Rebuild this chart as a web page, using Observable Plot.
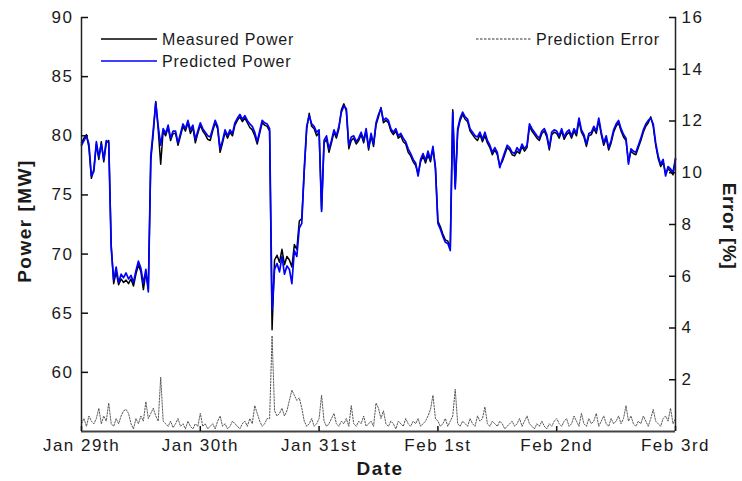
<!DOCTYPE html>
<html><head><meta charset="utf-8">
<script src="https://cdn.jsdelivr.net/npm/d3@7"></script>
<script src="https://cdn.jsdelivr.net/npm/@observablehq/plot@0.6"></script>
<style>body{margin:0;background:#fff;}</style>
</head><body><div id="chart"></div>
<script>
// ---- data (30-minute steps from Jan 29th 00:00) ----
const startUTC = Date.UTC(2014, 0, 29);
const stepHours = 0.5;
const dayLabels = ["Jan 29th", "Jan 30th", "Jan 31st", "Feb 1st", "Feb 2nd", "Feb 3rd"];
const powerTicks = [60, 65, 70, 75, 80, 85, 90];
const errorTicks = [2, 4, 6, 8, 10, 12, 14, 16];
const powerDomain = [55, 90];
const errorDomain = [0, 16];

const predicted = [
79.2,79.6,80.0,79.3,76.6,77.0,79.5,78.2,79.3,78.0,79.6,79.4,
70.5,67.8,68.9,67.6,68.3,68.0,68.4,67.9,68.2,67.6,68.6,69.4,
68.8,67.5,68.7,66.8,78.3,80.5,82.8,80.8,79.2,80.6,80.2,80.9,
79.8,80.4,80.4,79.4,80.2,81.0,80.6,81.3,80.5,80.9,79.7,80.4,
81.1,80.6,80.3,80.0,79.9,80.6,81.3,80.8,78.9,79.6,80.5,80.0,
80.5,80.2,81.1,81.5,81.8,81.4,81.7,81.3,81.0,80.8,80.3,79.5,
80.4,81.3,81.1,81.0,80.6,65.3,68.7,69.2,68.5,69.8,68.3,69.0,
68.7,67.5,70.3,69.8,72.2,72.6,77.2,80.8,81.7,81.0,80.8,80.3,
80.5,73.6,79.6,80.0,78.9,79.6,80.5,80.0,80.8,82.0,82.5,82.3,
79.2,79.9,80.0,79.5,79.8,80.3,79.6,80.6,79.0,80.2,79.3,81.1,
81.8,82.3,81.3,81.5,81.3,80.6,80.3,80.6,80.0,80.2,79.8,79.5,
78.9,78.5,78.0,77.7,76.6,78.0,78.5,77.9,78.7,78.0,79.1,77.2,
72.6,72.1,71.5,71.0,70.9,70.3,82.0,75.5,80.6,81.5,82.0,81.6,
81.4,80.6,80.3,80.0,79.9,80.3,79.7,80.3,79.6,79.2,78.6,79.0,
78.6,77.3,78.0,78.6,79.2,79.0,78.6,78.5,79.0,78.7,79.3,78.9,
79.2,81.0,80.6,80.3,80.0,79.8,80.4,80.6,80.1,79.0,80.3,80.5,
80.4,80.0,80.6,79.9,80.3,80.5,80.0,80.6,80.2,81.5,80.5,80.1,
79.3,80.2,80.3,80.8,80.4,81.5,80.3,79.4,80.0,79.0,79.6,80.5,
81.0,81.3,80.6,80.1,79.8,77.6,78.9,78.7,78.6,79.2,79.8,80.5,
81.0,81.3,81.5,81.0,79.4,78.3,77.6,78.0,76.6,77.4,77.2,76.9,
78.1];

const measured = [
79.4,79.8,80.1,79.0,76.4,77.2,79.3,78.0,79.5,77.8,79.4,79.6,
70.8,67.5,68.5,67.4,67.9,67.6,67.8,67.5,67.9,67.3,68.3,69.1,
68.5,67.0,68.4,67.1,77.9,80.2,82.9,80.5,77.6,80.4,80.0,80.7,
79.6,80.2,80.2,79.2,80.0,80.8,80.4,81.1,80.2,80.7,79.4,80.2,
80.9,80.4,80.1,79.7,79.6,80.4,81.1,80.6,78.6,79.4,80.3,79.8,
80.3,80.0,80.9,81.3,81.6,81.2,81.5,81.1,80.7,80.5,80.0,79.3,
80.2,81.1,80.9,80.8,80.4,63.6,69.5,69.9,69.3,70.4,69.1,69.8,
69.5,68.9,70.8,70.4,72.8,73.0,77.0,80.6,81.9,80.8,80.6,80.0,
80.3,73.8,79.4,79.7,78.6,79.4,80.3,79.8,80.6,82.2,82.7,82.1,
78.9,79.6,79.8,79.3,79.6,80.1,79.4,80.4,78.8,80.0,79.1,80.9,
81.6,82.4,81.1,81.3,81.1,80.4,80.1,80.4,79.8,80.0,79.5,79.3,
78.6,78.3,77.8,77.5,76.8,77.8,78.3,77.7,78.4,77.8,78.9,77.4,
72.8,72.3,71.7,71.2,71.1,70.5,82.2,75.7,80.4,81.3,81.8,81.4,
81.2,80.4,80.1,79.8,79.6,80.1,79.5,80.0,79.4,79.0,78.4,78.8,
78.4,77.5,77.8,78.4,79.0,78.8,78.4,78.3,78.7,78.5,79.1,78.7,
79.0,80.8,80.4,80.1,79.8,79.6,80.2,80.4,79.9,78.8,80.1,80.3,
80.2,79.8,80.4,79.7,80.1,80.3,79.8,80.4,80.0,81.3,80.3,79.9,
79.1,80.0,80.1,80.6,80.2,81.3,80.1,79.2,79.8,78.8,79.4,80.3,
80.8,81.1,80.4,79.9,79.6,77.8,78.7,78.5,78.4,79.0,79.6,80.3,
80.8,81.1,81.6,80.8,79.2,78.1,77.4,77.8,76.8,77.2,77.0,76.7,
78.0];

const predictionError = [
0.3,0.5,0.2,0.6,0.4,0.3,0.5,0.9,0.3,0.6,0.4,1.1,
0.3,0.2,0.5,0.3,0.6,0.8,0.85,0.7,0.3,0.1,0.5,0.3,
0.6,0.4,1.15,0.5,0.7,0.9,0.6,0.4,2.1,0.4,0.3,0.2,
0.4,0.15,0.3,0.5,0.2,0.3,0.1,0.4,0.2,0.1,0.3,0.2,
0.7,0.2,0.3,0.1,0.2,0.3,0.1,0.4,0.6,0.2,0.3,0.1,
0.2,0.4,0.3,0.2,0.1,0.3,0.4,0.2,0.5,0.3,1.0,0.7,
0.4,0.2,0.3,0.5,0.5,3.7,0.8,0.6,0.7,0.9,0.6,0.8,
1.2,1.6,1.4,1.2,1.3,0.9,0.4,0.2,0.3,0.5,0.2,0.3,
0.5,1.4,0.4,0.2,0.3,0.5,0.7,0.3,0.2,0.4,0.3,0.5,
0.2,1.0,0.3,0.2,0.4,0.3,0.6,0.2,0.3,0.4,0.2,1.1,
0.9,0.5,0.8,0.3,0.2,0.4,0.3,0.1,0.4,0.3,0.2,0.5,
0.3,0.2,0.4,0.3,0.5,0.2,0.3,0.4,0.6,0.85,1.4,0.5,
0.4,0.2,0.3,0.5,0.2,0.4,0.6,1.63,0.3,0.2,0.4,0.3,
0.2,0.5,0.3,0.2,0.6,0.4,0.5,0.95,0.3,0.2,0.4,0.3,
0.2,0.4,0.3,0.1,0.2,0.3,0.4,0.2,0.3,0.5,0.2,0.4,
0.6,0.3,0.2,0.1,0.3,0.2,0.4,0.2,0.1,0.3,0.2,0.4,
0.5,0.3,0.2,0.4,0.5,0.2,0.3,0.6,0.4,0.2,0.7,0.3,
0.2,0.5,0.3,0.4,0.7,0.2,0.4,0.6,0.3,0.2,0.5,0.3,
0.4,0.6,0.3,0.5,1.0,0.4,0.6,0.3,0.2,0.4,0.3,0.6,
0.4,0.2,0.5,0.85,0.4,0.3,0.2,0.5,0.6,0.4,0.9,0.3,
0.5];

// ---- helpers ----
const DAY = 86400e3;
const timeAt = i => new Date(startUTC + i * stepHours * 3600e3);
const dayTicks = dayLabels.map((_, i) => new Date(startUTC + i * DAY));
// error axis (right) shares the plot's y scale: linear map of [0,16] % onto [55,90] MW
const errToY = e => powerDomain[0] + (e - errorDomain[0]) * (powerDomain[1] - powerDomain[0]) / (errorDomain[1] - errorDomain[0]);
const yToErr = v => errorDomain[0] + (v - powerDomain[0]) * (errorDomain[1] - errorDomain[0]) / (powerDomain[1] - powerDomain[0]);

const predRows = predicted.map((v, i) => ({t: timeAt(i), v}));
const measRows = measured.map((v, i) => ({t: timeAt(i), v}));
const errRows = predictionError.map((e, i) => ({t: timeAt(i), v: errToY(e)}));

const FONT = "'Liberation Sans', Arial, Helvetica, sans-serif";
const xDomain = [dayTicks[0], dayTicks[dayTicks.length - 1]];

const chart = Plot.plot({
  width: 742, height: 481,
  marginLeft: 81, marginRight: 67, marginTop: 17, marginBottom: 50,
  style: {fontFamily: FONT, fontSize: "17px", color: "#1a1a1a", background: "#fff", letterSpacing: "1.5px"},
  x: {type: "utc", domain: xDomain},
  y: {domain: powerDomain},
  marks: [
    Plot.line(errRows, {x: "t", y: "v", stroke: "#444", strokeWidth: 0.9, strokeDasharray: "1.5,1.5"}),
    Plot.line(measRows, {x: "t", y: "v", stroke: "#000", strokeWidth: 1.5}),
    Plot.line(predRows, {x: "t", y: "v", stroke: "#0000ff", strokeWidth: 1.7}),
    Plot.ruleX(xDomain, {stroke: "#222", strokeWidth: 1.5}),
    Plot.ruleY([powerDomain[0]], {stroke: "#444", strokeWidth: 2}),
    Plot.axisX(dayTicks, {tickSize: -5, tickPadding: 12, label: null, stroke: "#111", strokeWidth: 1.5,
      tickFormat: d => dayLabels[Math.round((d - startUTC) / DAY)]}),
    Plot.axisY(powerTicks, {anchor: "left", tickSize: -7, tickPadding: 15, label: null, stroke: "#111", strokeWidth: 1.5}),
    Plot.axisY(errorTicks.map(errToY), {anchor: "right", tickSize: -7, tickPadding: 13, label: null, stroke: "#111", strokeWidth: 1.5,
      tickFormat: v => String(Math.round(yToErr(v)))})
  ]
});

document.getElementById("chart").appendChild(chart);

// ---- titles and legends ----
const svg = d3.select(chart);
const g = svg.append("g").attr("font-family", FONT).attr("fill", "#1a1a1a");
g.append("text").attr("transform", "translate(24,221) rotate(-90)")
  .attr("text-anchor", "middle").attr("dominant-baseline", "central")
  .attr("font-weight", "bold").attr("font-size", 19).attr("letter-spacing", "1.5px").text("Power [MW]");
g.append("text").attr("transform", "translate(729,226) rotate(90)")
  .attr("text-anchor", "middle").attr("dominant-baseline", "central")
  .attr("font-weight", "bold").attr("font-size", 19).attr("letter-spacing", "0.6px").text("Error [%]");
g.append("text").attr("x", 380).attr("y", 475).attr("text-anchor", "middle")
  .attr("font-weight", "bold").attr("font-size", 19).attr("letter-spacing", "1.5px").text("Date");

const legend = [
  {x1: 101, x2: 157, y: 39, tx: 162, ty: 45, color: "#000", dash: null, w: 1.3, label: "Measured Power"},
  {x1: 101, x2: 157, y: 61, tx: 162, ty: 67, color: "#0000ff", dash: null, w: 1.5, label: "Predicted Power"},
  {x1: 476, x2: 531, y: 39, tx: 536, ty: 45, color: "#333", dash: "2.5,1.5", w: 1, label: "Prediction Error"}
];
for (const L of legend) {
  g.append("line").attr("x1", L.x1).attr("x2", L.x2).attr("y1", L.y).attr("y2", L.y)
    .attr("stroke", L.color).attr("stroke-width", L.w).attr("stroke-dasharray", L.dash);
  g.append("text").attr("x", L.tx).attr("y", L.ty).attr("font-size", 16).attr("text-anchor", "start")
    .attr("letter-spacing", "0.8px").text(L.label);
}
</script>
</body></html>
